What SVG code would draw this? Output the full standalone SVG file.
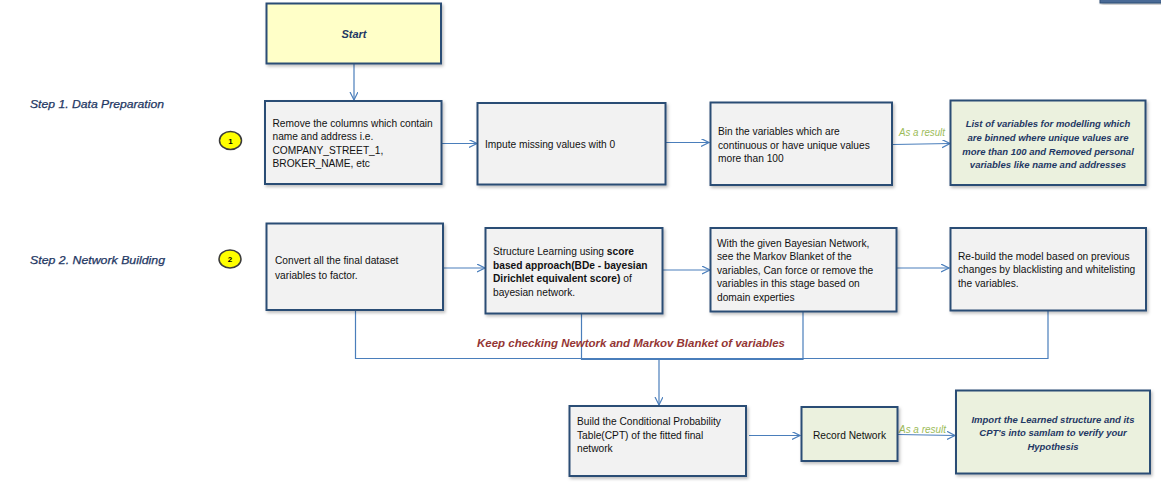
<svg xmlns="http://www.w3.org/2000/svg" width="1161" height="485" viewBox="0 0 1161 485">
<style>
.box{fill:#f2f2f2;stroke:#2c4d75;stroke-width:2}
.res{fill:#ebf1de;stroke:#2c4d75;stroke-width:2}
.start{fill:#ffffc8;stroke:#2c4d75;stroke-width:2}
.t{font-family:"Liberation Sans",Arial,sans-serif;font-size:10.2px;fill:#111}
.b{font-weight:bold}
.ri{font-family:"Liberation Sans",Arial,sans-serif;font-size:9.5px;font-style:italic;font-weight:bold;fill:#1f3864;text-anchor:middle}
.step{font-family:"Liberation Sans",Arial,sans-serif;font-size:10.5px;font-style:italic;fill:#1f3864;stroke:#1f3864;stroke-width:0.25}
.asr{font-family:"Liberation Sans",Arial,sans-serif;font-size:10px;font-style:italic;fill:#9bbb59}
.keep{font-family:"Liberation Sans",Arial,sans-serif;font-size:11px;font-style:italic;font-weight:bold;fill:#943634}
.num{fill:#ffff00;stroke:#3a3a3a;stroke-width:1.5}
.nt{font-family:"Liberation Sans",Arial,sans-serif;font-size:8px;font-weight:bold;fill:#000;text-anchor:middle}
.c{fill:none;stroke:#4a7ebb;stroke-width:1.2}
</style>
<defs>
<marker id="arr" markerWidth="10" markerHeight="10" refX="8" refY="4" orient="auto" markerUnits="userSpaceOnUse">
<path d="M0,0 L8,4 L0,8" fill="none" stroke="#4a7ebb" stroke-width="1.2"/>
</marker>
<filter id="sh" x="-5%" y="-5%" width="115%" height="120%">
<feDropShadow dx="1.5" dy="2" stdDeviation="1.5" flood-color="#000" flood-opacity="0.25"/>
</filter>
</defs>
<rect x="1100" y="-10" width="70" height="13" fill="#4a6a96" stroke="#2c4d75" stroke-width="1" filter="url(#sh)"/>
<text class="step" x="30" y="108" textLength="134" lengthAdjust="spacingAndGlyphs">Step 1. Data Preparation</text>
<text class="step" x="30" y="264" textLength="135" lengthAdjust="spacingAndGlyphs">Step 2. Network Building</text>
<g id="connectors">
<line class="c" x1="354" y1="63" x2="354" y2="100" marker-end="url(#arr)"/>
<line class="c" x1="442" y1="143.5" x2="477" y2="143.5" marker-end="url(#arr)"/>
<line class="c" x1="666" y1="142.5" x2="709" y2="142.5" marker-end="url(#arr)"/>
<line class="c" x1="893" y1="144.5" x2="950" y2="143.5" marker-end="url(#arr)"/>
<line class="c" x1="444" y1="268" x2="485" y2="268" marker-end="url(#arr)"/>
<line class="c" x1="663" y1="270" x2="710" y2="270" marker-end="url(#arr)"/>
<line class="c" x1="897" y1="268" x2="949" y2="268" marker-end="url(#arr)"/>
<polyline class="c" points="355.5,310 355.5,358.5 1048,358.5 1048,311"/>
<polyline class="c" points="581.5,314 581.5,359.5 803,359.5 803,312"/>
<line class="c" x1="659" y1="359" x2="659" y2="405" marker-end="url(#arr)"/>
<line class="c" x1="749" y1="435.5" x2="800" y2="435.5" marker-end="url(#arr)"/>
<line class="c" x1="898" y1="434.5" x2="955" y2="435.5" marker-end="url(#arr)"/>
<text class="asr" x="899" y="136" textLength="46" lengthAdjust="spacingAndGlyphs">As a result</text>
<text class="asr" x="899" y="432.5" textLength="47" lengthAdjust="spacingAndGlyphs">As a result</text>
<text class="keep" x="477" y="347" textLength="308" lengthAdjust="spacingAndGlyphs">Keep checking Newtork and Markov Blanket of variables</text>
</g>
<g id="n-start">
<rect class="start" x="266.5" y="3.5" width="174.5" height="60" filter="url(#sh)"/>
<text x="354" y="37.5" text-anchor="middle" font-family="Liberation Sans, Arial, sans-serif" font-size="11px" font-style="italic" font-weight="bold" fill="#1f3864">Start</text>
</g>
<g id="n-badge1">
<ellipse class="num" cx="230.5" cy="140.5" rx="11" ry="9"/>
<text class="nt" x="230.5" y="143.5">1</text>
</g>
<g id="n-badge2">
<ellipse class="num" cx="230" cy="259" rx="11" ry="9"/>
<text class="nt" x="230" y="262">2</text>
</g>
<g id="n-remove">
<rect class="box" x="265" y="101" width="176.5" height="83" filter="url(#sh)"/>
<text class="t" x="272.5" y="126.5">Remove the columns which contain</text>
<text class="t" x="272.5" y="140">name and address i.e.</text>
<text class="t" x="272.5" y="153.5">COMPANY_STREET_1,</text>
<text class="t" x="272.5" y="167">BROKER_NAME,  etc</text>
</g>
<g id="n-impute">
<rect class="box" x="477.5" y="103" width="188" height="81.5" filter="url(#sh)"/>
<text class="t" x="485" y="147.5">Impute missing values with 0</text>
</g>
<g id="n-bin">
<rect class="box" x="710.5" y="102.5" width="181.5" height="82.5" filter="url(#sh)"/>
<text class="t" x="718" y="135">Bin the variables which are</text>
<text class="t" x="718" y="148.5">continuous or have unique values</text>
<text class="t" x="718" y="162">more than 100</text>
</g>
<g id="n-list">
<rect class="res" x="950.5" y="100.5" width="195" height="84.5" filter="url(#sh)"/>
<text class="ri" x="1048" y="126.5">List of variables for modelling which</text>
<text class="ri" x="1048" y="140.5">are binned where  unique values are</text>
<text class="ri" x="1048" y="154.5">more than 100 and Removed personal</text>
<text class="ri" x="1048" y="168">variables like name and addresses</text>
</g>
<g id="n-convert">
<rect class="box" x="266.5" y="223.5" width="176.5" height="86.5" filter="url(#sh)"/>
<text class="t" x="275" y="263.5">Convert all the final dataset</text>
<text class="t" x="275" y="278.5">variables to factor.</text>
</g>
<g id="n-structure">
<rect class="box" x="485.5" y="228" width="177" height="85.5" filter="url(#sh)"/>
<text class="t" x="493" y="255">Structure Learning using <tspan class="b">score</tspan></text>
<text class="t b" x="493" y="268.5">based approach(BDe  - bayesian</text>
<text class="t" x="493" y="282"><tspan class="b">Dirichlet equivalent score)</tspan> of</text>
<text class="t" x="493" y="296">bayesian network.</text>
</g>
<g id="n-markov">
<rect class="box" x="710.5" y="228" width="186" height="83.5" filter="url(#sh)"/>
<text class="t" x="717" y="246.5">With the given Bayesian Network,</text>
<text class="t" x="717" y="260">see the Markov Blanket of the</text>
<text class="t" x="717" y="273.5">variables, Can force or remove the</text>
<text class="t" x="717" y="287">variables in this stage based on</text>
<text class="t" x="717" y="300.5">domain experties</text>
</g>
<g id="n-rebuild">
<rect class="box" x="950.5" y="228" width="195.5" height="82.5" filter="url(#sh)"/>
<text class="t" x="958" y="260">Re-build the model based on previous</text>
<text class="t" x="958" y="273">changes by blacklisting and whitelisting</text>
<text class="t" x="958" y="287">the variables.</text>
</g>
<g id="n-cpt">
<rect class="box" x="569.5" y="406" width="176.5" height="70" filter="url(#sh)"/>
<text class="t" x="577" y="425">Build the Conditional Probability</text>
<text class="t" x="577" y="438.5">Table(CPT) of the fitted final</text>
<text class="t" x="577" y="452">network</text>
</g>
<g id="n-record">
<rect class="res" x="801.5" y="407" width="96" height="54" filter="url(#sh)"/>
<text class="t" x="849.5" y="438.5" text-anchor="middle">Record Network</text>
</g>
<g id="n-import">
<rect class="res" x="956" y="390.5" width="194" height="83" filter="url(#sh)"/>
<text class="ri" x="1053" y="422.5">Import the Learned structure and its</text>
<text class="ri" x="1053" y="436">CPT's into samlam to verify your</text>
<text class="ri" x="1053" y="450">Hypothesis</text>
</g>
</svg>
